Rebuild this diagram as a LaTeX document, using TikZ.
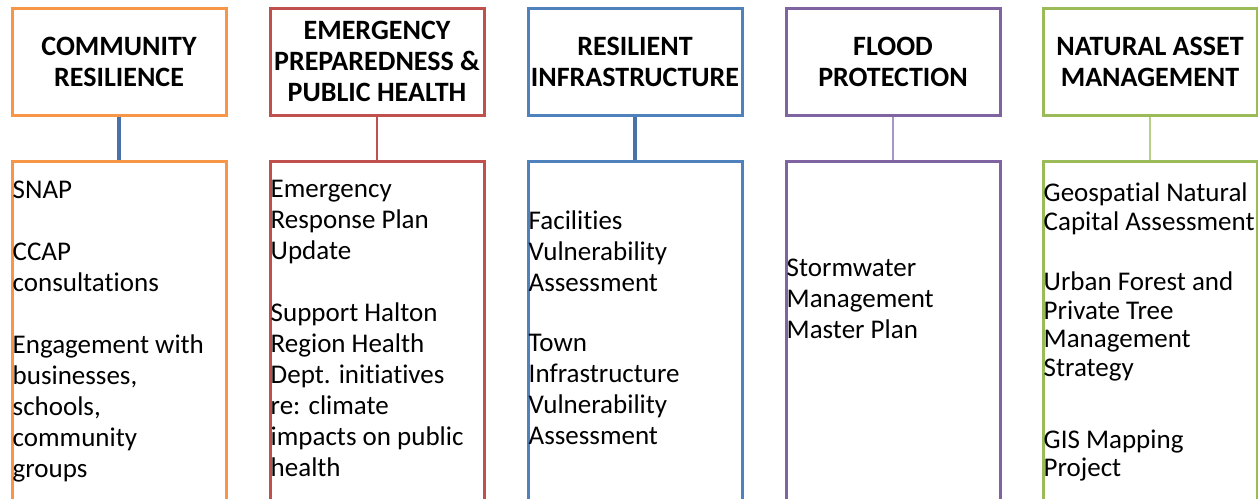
\documentclass[tikz,border=0pt]{standalone}
\usepackage{fontspec}
\setmainfont{Carlito}[Ligatures=NoCommon]
\usetikzlibrary{calc}

\definecolor{orangeC}{HTML}{F79646}
\definecolor{redC}{HTML}{C0504D}
\definecolor{blueC}{HTML}{4F81BD}
\definecolor{blueD}{HTML}{4A72A8}
\definecolor{purpleC}{HTML}{8064A2}
\definecolor{greenC}{HTML}{9BBB59}
\definecolor{purpleL}{HTML}{A896C6}
\definecolor{greenL}{HTML}{B7CF87}

\newcommand{\headfont}{\bfseries\fontsize{28}{31}\selectfont}
\newcommand{\listfont}{\fontsize{27}{31}\selectfont}

\tikzset{
  headbox/.style={draw=#1, line width=3pt, fill=white, minimum width=214pt,
    minimum height=107pt, inner sep=0pt, align=center, font=\headfont},
  listbox/.style={draw=#1, line width=3pt, minimum width=214pt,
    minimum height=420pt, anchor=north},
  itemtext/.style={anchor=north west, inner sep=0pt, align=left, font=\listfont,
    execute at begin node={\rule{0pt}{20pt}}},
  link/.style={draw=#1, line width=2pt},
  boldlink/.style={draw=#1, line width=4pt}
}

\begin{document}
\begin{tikzpicture}[x=1pt, y=-1pt]

    % page frame, the lists run off the bottom
    \useasboundingbox (0,0) rectangle (1258,498);
    \clip (0,0) rectangle (1258,498);

    % top row of headings
    \node[headbox=orangeC] (cr-head) at (119,61.5) {COMMUNITY\\RESILIENCE};
    \node[headbox=redC] (ep-head) at (377,61.5) {EMERGENCY\\PREPAREDNESS \&\\PUBLIC HEALTH};
    \node[headbox=blueC] (ri-head) at (635,61.5) {RESILIENT\\INFRASTRUCTURE};
    \node[headbox=purpleC] (fp-head) at (893,61.5) {FLOOD\\PROTECTION};
    \node[headbox=greenC] (na-head) at (1150,61.5) {NATURAL ASSET\\MANAGEMENT};

    % list boxes below
    \node[listbox=orangeC] (cr-list) at (119,160) {};
    \node[listbox=redC] (ep-list) at (377,160) {};
    \node[listbox=blueC] (ri-list) at (635,160) {};
    \node[listbox=purpleC] (fp-list) at (893,160) {};
    \node[listbox=greenC] (na-list) at (1150,160) {};

    % links
    \draw[boldlink=blueD] (cr-head.south) -- (cr-list.north);
    \draw[link=redC] (ep-head.south) -- (ep-list.north);
    \draw[boldlink=blueD] (ri-head.south) -- (ri-list.north);
    \draw[link=purpleL] (fp-head.south) -- (fp-list.north);
    \draw[link=greenL] (na-head.south) -- (na-list.north);

    % items
    \node[itemtext] (cr-items) at ($(cr-list.north west)+(2,21)$)
        {SNAP\\[31pt]CCAP\\consultations\\[31pt]Engagement with\\businesses,\\schools,\\community\\groups};
    \node[itemtext] (ep-items) at ($(ep-list.north west)+(2,20)$)
        {Emergency\\Response Plan\\Update\\[31pt]Support Halton\\Region Health\\Dept. initiatives\\re: climate\\impacts on public\\health};
    \node[itemtext] (ri-items) at ($(ri-list.north west)+(2,51)$)
        {Facilities\\Vulnerability\\Assessment\\[29pt]Town\\Infrastructure\\Vulnerability\\Assessment};
    \node[itemtext] (fp-items) at ($(fp-list.north west)+(2,99)$)
        {Stormwater\\Management\\Master Plan};
    \node[itemtext, font=\fontsize{27}{28.7}\selectfont] (na-items) at ($(na-list.north west)+(2,23)$)
        {Geospatial Natural\\Capital Assessment\\[31pt]Urban Forest and\\Private Tree\\Management\\Strategy\\[43pt]GIS Mapping\\Project};

\end{tikzpicture}
\end{document}
